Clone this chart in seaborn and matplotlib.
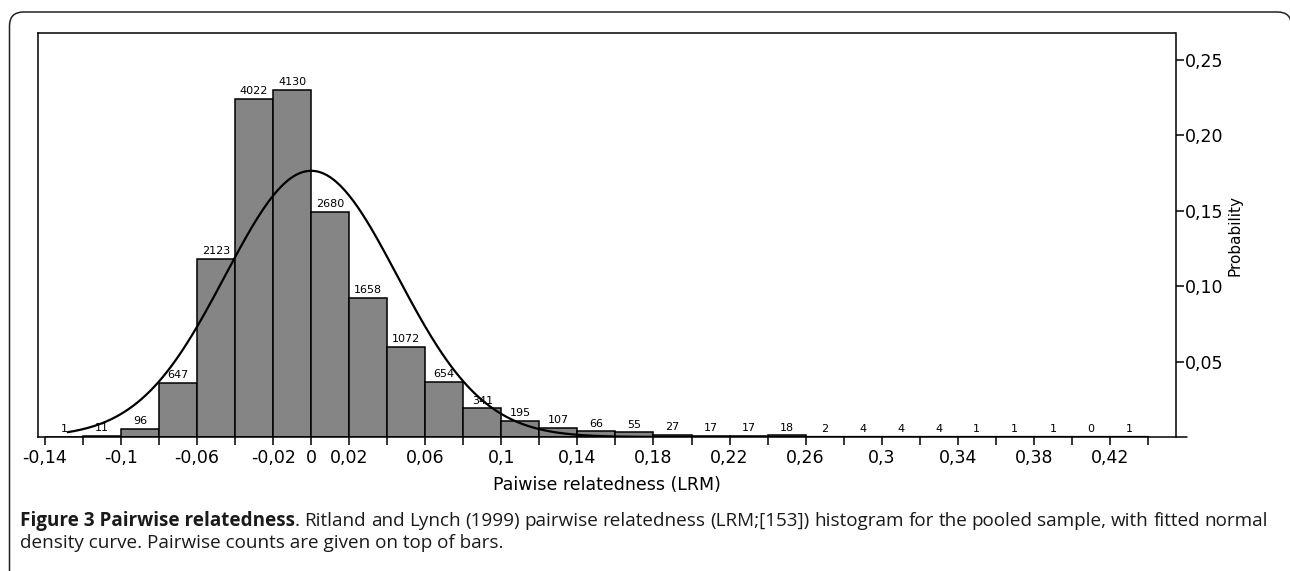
import numpy as np
import pandas as pd
import matplotlib
matplotlib.use("Agg")
import matplotlib.pyplot as plt
import seaborn as sns
from matplotlib.path import Path
from matplotlib.patches import PathPatch

# ---------------- data ----------------
bin_start = -0.14
bin_width = 0.02
pair_counts = [1, 11, 96, 647, 2123, 4022, 4130, 2680, 1658, 1072, 654, 341,
               195, 107, 66, 55, 27, 17, 17, 18, 2, 4, 4, 4, 1, 1, 1, 0, 1]
fit_mean = 0.0
fit_sd = 0.0452
curve_start = -0.128
curve_end = 0.44

xtick_labels = ['-0,14', '', '-0,1', '', '-0,06', '', '-0,02', '0', '0,02', '',
                '0,06', '', '0,1', '', '0,14', '', '0,18', '', '0,22', '',
                '0,26', '', '0,3', '', '0,34', '', '0,38', '', '0,42', '']
ytick_values = [0.05, 0.10, 0.15, 0.20, 0.25]
ytick_labels = ['0,05', '0,10', '0,15', '0,20', '0,25']

x_label = "Paiwise relatedness (LRM)"
y_label = "Probability"
caption_bold = "Figure 3 Pairwise relatedness"
caption_line1 = ("Ritland and Lynch (1999) pairwise relatedness (LRM;[153]) "
                 "histogram for the pooled sample, with fitted normal")
caption_line2 = "density curve. Pairwise counts are given on top of bars."

# ---------------- derived tables ----------------
n_bins = len(pair_counts)
edges = [float(v) for v in (bin_start + bin_width * np.arange(n_bins + 1))]
mids = [e + bin_width / 2 for e in edges[:-1]]
df = pd.DataFrame({"mid": mids, "count": pair_counts})

xs = np.linspace(curve_start, curve_end, 500)
ys = bin_width * np.exp(-0.5 * ((xs - fit_mean) / fit_sd) ** 2) / (fit_sd * np.sqrt(2 * np.pi))
curve = pd.DataFrame({"x": xs, "y": ys})

# ---------------- figure ----------------
sns.set_theme(style="white")
plt.rcParams["font.family"] = ["DejaVu Sans"]

W, H = 1290, 571
fig = plt.figure(figsize=(W / 100, H / 100), dpi=100)
fig.patch.set_facecolor("white")

ax_l, ax_r, ax_t, ax_b = 37.7, 1175.5, 33.3, 437.0
ax = fig.add_axes([ax_l / W, 1 - ax_b / H, (ax_r - ax_l) / W, (ax_b - ax_t) / H])
ax.set_facecolor("white")

sns.histplot(data=df, x="mid", weights="count", bins=edges, stat="probability",
             color="#858585", edgecolor="black", linewidth=1.1, alpha=1.0, ax=ax)

ax.bar_label(ax.containers[0], labels=[str(c) for c in pair_counts],
             fontsize=8, padding=2, color="black")

sns.lineplot(data=curve, x="x", y="y", color="black", linewidth=1.6, ax=ax)

ax.set_xlim(-0.1438, 0.4545)
ax.set_ylim(0, 0.2677)
ax.set_xticks(edges)
ax.set_xticklabels(xtick_labels)
ax.set_yticks(ytick_values)
ax.set_yticklabels(ytick_labels)

ax.tick_params(axis="x", direction="out", length=5.8, width=1.1, pad=3.0,
               labelsize=12.5, colors="black", bottom=True)
ax.tick_params(axis="y", left=False, right=True, labelleft=False, labelright=True,
               direction="out", length=5.5, width=1.1, pad=1.5, labelsize=12.5,
               colors="black")

ax.set_xlabel(x_label, fontsize=12.5, labelpad=6, color="black")
ax.yaxis.set_label_position("right")
ax.set_ylabel(y_label, fontsize=11, labelpad=3, color="black",
              family=["Liberation Sans Narrow", "DejaVu Sans"])

for s in ax.spines.values():
    s.set_visible(True)
    s.set_color("black")
    s.set_linewidth(1.1)

# x-axis line continues a little past the right axis
ax.plot([1.0, 1.0105], [0, 0], transform=ax.transAxes, color="black",
        lw=1.1, clip_on=False)

# ---------------- outer rounded frame ----------------
def fx(px):
    return px / W

def fy(py):
    return 1 - py / H

L, T, R, rad = 9.5, 12.0, 1291.5, 14.0
verts = [(fx(L), fy(H + 10)), (fx(L), fy(T + rad)),
         (fx(L), fy(T)), (fx(L + rad), fy(T)),
         (fx(R - rad), fy(T)),
         (fx(R), fy(T)), (fx(R), fy(T + rad)),
         (fx(R), fy(H + 10))]
codes = [Path.MOVETO, Path.LINETO, Path.CURVE3, Path.CURVE3, Path.LINETO,
         Path.CURVE3, Path.CURVE3, Path.LINETO]
fig.add_artist(PathPatch(Path(verts, codes), transform=fig.transFigure,
                         facecolor="none", edgecolor="#222222", lw=1.1))

# ---------------- caption (justified first line) ----------------
renderer = fig.canvas.get_renderer()
cap_family = ["Open Sans", "DejaVu Sans"]
cap_color = "#1a1a1a"
x0, x1 = 20.0, 1268.0
line2_width = 484.0
base1, base2 = 526.0, 548.0

def text_width(s, size, weight="normal"):
    t = fig.text(0, 0, s, fontsize=size, family=cap_family, weight=weight)
    w = t.get_window_extent(renderer).width
    t.remove()
    return w

cap_fs = 10 * line2_width / text_width(caption_line2, 10)

tb = fig.text(fx(x0), fy(base1), caption_bold, fontsize=cap_fs, family=cap_family,
              weight="bold", va="baseline", ha="left", color=cap_color)
bw = tb.get_window_extent(renderer).width
tdot = fig.text(fx(x0 + bw), fy(base1), ".", fontsize=cap_fs, family=cap_family,
                va="baseline", ha="left", color=cap_color)
dw = tdot.get_window_extent(renderer).width
words = caption_line1.split(" ")
widths = [text_width(w, cap_fs) for w in words]
start = x0 + bw + dw
gap = (x1 - start - sum(widths)) / len(words)
xpos = start + gap
for w, wd in zip(words, widths):
    fig.text(fx(xpos), fy(base1), w, fontsize=cap_fs, family=cap_family,
             va="baseline", ha="left", color=cap_color)
    xpos += wd + gap

fig.text(fx(x0), fy(base2), caption_line2, fontsize=cap_fs, family=cap_family,
         va="baseline", ha="left", color=cap_color)

fig.savefig("out.png", dpi=100, facecolor="white")
